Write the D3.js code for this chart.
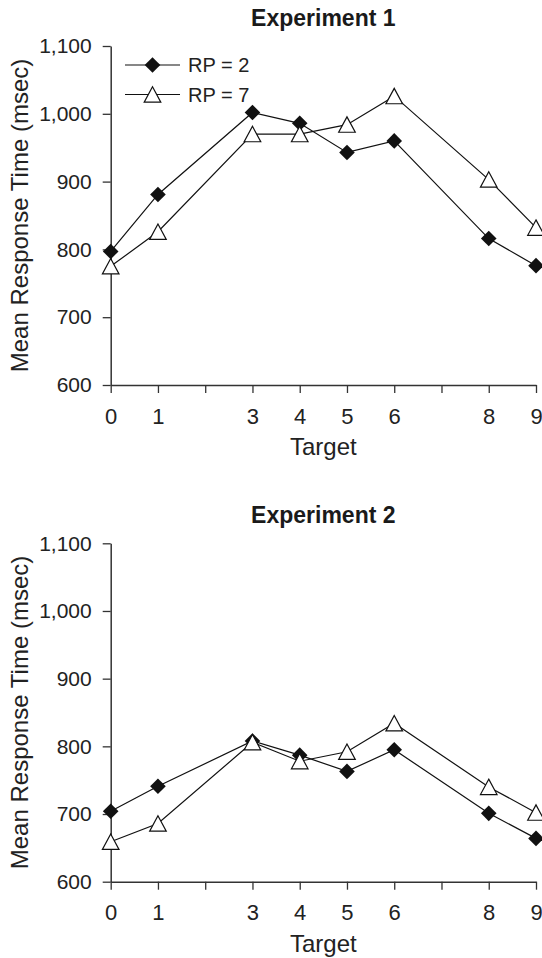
<!DOCTYPE html>
<html>
<head>
<meta charset="utf-8">
<script src="https://cdn.jsdelivr.net/npm/d3@7"></script>
<style>
  body { margin: 0; background: #fff; }
  svg { display: block; font-family: "Liberation Sans", Arial, sans-serif; }
</style>
</head>
<body>
<svg id="chart" width="542" height="958"></svg>
<script>
// targets shown on the x axis (2 and 7 have ticks but no label)
let targets = [0, 1, 3, 4, 5, 6, 8, 9];
let xTicks = [0, 1, 2, 3, 4, 5, 6, 7, 8, 9];
let yTicks = [600, 700, 800, 900, 1000, 1100];

let exp1Rp2 = [797, 881, 1002, 986, 943, 960, 816, 776];
let exp1Rp7 = [775, 826, 970, 970, 984, 1026, 903, 832];
let exp2Rp2 = [704, 741, 808, 787, 763, 795, 701, 664];
let exp2Rp7 = [659, 686, 806, 778, 792, 834, 740, 702];

let seriesNames = ["RP = 2", "RP = 7"];

let svg = d3.select("#chart");

let left = 110.7, right = 536;
let x = d3.scaleLinear().domain([0, 9]).range([left, right]);

let diamond = "M0,-7.8L7.8,0L0,7.8L-7.8,0Z";
let triangle = "M0,-7.8L8.3,7.6L-8.3,7.6Z";

function drawPanel(title, rp2, rp7, top, bottom, showLegend) {
    let g = svg.append('g');
    let y = d3.scaleLinear().domain([600, 1100]).range([bottom, top]);

    // title
    g.append('text')
        .attr('x', (left + right) / 2)
        .attr('y', top - 20)
        .attr('text-anchor', 'middle')
        .attr('font-size', 23)
        .attr('font-weight', 'bold')
        .attr('fill', '#1a1a1a')
        .text(title);

    // y axis
    let yAxis = g.append('g')
        .attr('transform', `translate(${left},0)`)
        .call(d3.axisLeft(y).tickValues(yTicks).tickFormat(d3.format(","))
            .tickSize(8).tickSizeOuter(0).tickPadding(11));

    // x axis
    let xAxis = g.append('g')
        .attr('transform', `translate(0,${bottom})`)
        .call(d3.axisBottom(x).tickValues(xTicks)
            .tickFormat(d => targets.includes(d) ? d : "")
            .tickSize(8).tickSizeOuter(0).tickPadding(15));

    [yAxis, xAxis].forEach(a => {
        a.select('.domain').attr('stroke', '#333').attr('stroke-width', 1.5);
        a.selectAll('.tick line').attr('stroke', '#333').attr('stroke-width', 1.3);
        a.selectAll('.tick text').attr('fill', '#222').attr('font-size', 21);
    });
    xAxis.selectAll('.tick text').attr('font-size', 22);

    // axis titles
    g.append('text')
        .attr('transform', `translate(28,${(top + bottom) / 2}) rotate(-90)`)
        .attr('text-anchor', 'middle')
        .attr('font-size', 24)
        .attr('fill', '#222')
        .text("Mean Response Time (msec)");

    g.append('text')
        .attr('x', (left + right) / 2)
        .attr('y', bottom + 70)
        .attr('text-anchor', 'middle')
        .attr('font-size', 24)
        .attr('fill', '#222')
        .text("Target");

    let line = d3.line()
        .x((d, i) => x(targets[i]))
        .y(d => y(d));

    [rp2, rp7].forEach(s => {
        g.append('path')
            .datum(s)
            .attr('d', line)
            .attr('fill', 'none')
            .attr('stroke', '#111')
            .attr('stroke-width', 1.2);
    });

    g.selectAll('.dia')
        .data(rp2)
        .join('path')
        .attr('d', diamond)
        .attr('transform', (d, i) => `translate(${x(targets[i])},${y(d)})`)
        .attr('fill', '#111');

    g.selectAll('.tri')
        .data(rp7)
        .join('path')
        .attr('d', triangle)
        .attr('transform', (d, i) => `translate(${x(targets[i])},${y(d)})`)
        .attr('fill', '#fff')
        .attr('stroke', '#111')
        .attr('stroke-width', 1.2);

    if (showLegend) {
        let legend = g.append('g');
        seriesNames.forEach((name, i) => {
            let ly = top + 19 + i * 29.5;
            legend.append('line')
                .attr('x1', 125).attr('x2', 180)
                .attr('y1', ly).attr('y2', ly)
                .attr('stroke', '#111').attr('stroke-width', 1.2);
            legend.append('path')
                .attr('d', i === 0 ? diamond : triangle)
                .attr('transform', `translate(152.5,${ly})`)
                .attr('fill', i === 0 ? '#111' : '#fff')
                .attr('stroke', i === 0 ? 'none' : '#111')
                .attr('stroke-width', 1.2);
            legend.append('text')
                .attr('x', 188)
                .attr('y', ly + 7)
                .attr('font-size', 20)
                .attr('fill', '#222')
                .text(name);
        });
    }
}

drawPanel("Experiment 1", exp1Rp2, exp1Rp7, 46, 385, true);
drawPanel("Experiment 2", exp2Rp2, exp2Rp7, 543.3, 881.7, false);
</script>
</body>
</html>
